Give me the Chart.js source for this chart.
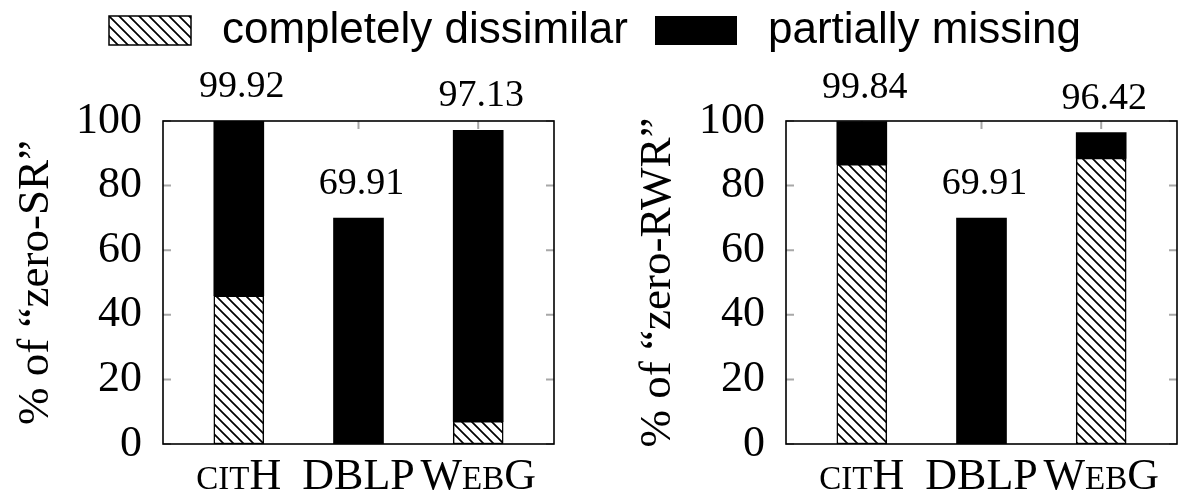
<!DOCTYPE html>
<html>
<head>
<meta charset="utf-8">
<title>zero-SR / zero-RWR</title>
<script src="https://cdn.jsdelivr.net/npm/chart.js@4.4.1/dist/chart.umd.min.js"></script>
<style>
  html, body { margin: 0; padding: 0; background: #fff; }
  #page { position: relative; width: 1188px; height: 495px; overflow: hidden; }
  .panel { position: absolute; top: 0; }
  #legend { position: absolute; left: 0; top: 0; width: 1188px; height: 60px;
            font-family: 'Liberation Sans', Arial, sans-serif; font-size: 44px; color: #000; }
  .swatch { position: absolute; top: 15px; }
  .ltext { position: absolute; top: 4px; line-height: 48px; white-space: nowrap; }
</style>
</head>
<body>
<div id="page">
  <canvas id="srChart" class="panel" width="594" height="495" style="left:0"></canvas>
  <canvas id="rwrChart" class="panel" width="594" height="495" style="left:594px"></canvas>
  <div id="legend">
    <canvas id="swHatch" class="swatch" width="84" height="31" style="left:108px"></canvas>
    <span class="ltext" style="left:222px"></span>
    <canvas id="swBlack" class="swatch" width="84" height="31" style="left:654px"></canvas>
    <span class="ltext" style="left:768px"></span>
  </div>
</div>
<script>
// ── data ────────────────────────────────────────────────────────────────
const categories = ['citH', 'DBLP', 'WebG'];
const seriesNames = ['completely dissimilar', 'partially missing'];

const dissimilarSR = [45.9, 0, 7.0];
const partialSR = [54.02, 69.91, 90.13];
const totalSR = [99.92, 69.91, 97.13];

const dissimilarRWR = [86.6, 0, 88.5];
const partialRWR = [13.24, 69.91, 7.92];
const totalRWR = [99.84, 69.91, 96.42];

const yTicks = [0, 20, 40, 60, 80, 100];

const SERIF = "'Liberation Serif', 'DejaVu Serif', serif";

// ── hatch pattern ("north west lines") ─────────────────────────────────
function makeHatch(ctx) {
    const tile = document.createElement('canvas');
    tile.width = 10;
    tile.height = 10;
    const t = tile.getContext('2d');
    t.fillStyle = '#fff';
    t.fillRect(0, 0, 10, 10);
    t.strokeStyle = '#000';
    t.lineWidth = 1.7;
    t.beginPath();
    t.moveTo(-2, -2); t.lineTo(12, 12);
    t.moveTo(-12, -2); t.lineTo(2, 12);
    t.moveTo(8, -2); t.lineTo(22, 12);
    t.stroke();
    return ctx.createPattern(tile, 'repeat');
}

// lowercase letters are drawn as small capitals
function drawSmallCaps(ctx, text, cx, baseline, big, small) {
    const runs = [];
    for (const ch of text) {
        const sc = ch !== ch.toUpperCase();
        const last = runs[runs.length - 1];
        if (last && last.sc === sc) last.t += sc ? ch.toUpperCase() : ch;
        else runs.push({ sc, t: sc ? ch.toUpperCase() : ch });
    }
    let w = 0;
    runs.forEach(r => {
        ctx.font = (r.sc ? small : big) + 'px ' + SERIF;
        r.w = ctx.measureText(r.t).width;
        w += r.w;
    });
    let x = cx - w / 2;
    ctx.textAlign = 'left';
    ctx.textBaseline = 'alphabetic';
    runs.forEach(r => {
        ctx.font = (r.sc ? small : big) + 'px ' + SERIF;
        ctx.fillText(r.t, x, baseline);
        x += r.w;
    });
}

// inner ticks, frame, totals above bars, category labels
const decorations = {
    id: 'decorations',
    beforeDatasetsDraw(chart) {
        const { ctx, chartArea: a, scales: { x, y } } = chart;
        ctx.save();
        ctx.strokeStyle = '#a8a8a8';
        ctx.lineWidth = 2;
        ctx.beginPath();
        yTicks.forEach(v => {
            const py = y.getPixelForValue(v);
            ctx.moveTo(a.left, py); ctx.lineTo(a.left + 8, py);
            ctx.moveTo(a.right, py); ctx.lineTo(a.right - 8, py);
        });
        categories.forEach((c, i) => {
            const px = x.getPixelForValue(i);
            ctx.moveTo(px, a.top); ctx.lineTo(px, a.top + 8);
            ctx.moveTo(px, a.bottom); ctx.lineTo(px, a.bottom - 8);
        });
        ctx.stroke();
        ctx.restore();
    },
    afterDatasetsDraw(chart, args, opts) {
        const { ctx, chartArea: a, scales: { x, y } } = chart;
        ctx.save();
        ctx.strokeStyle = '#000';
        ctx.lineWidth = 1.6;
        ctx.strokeRect(a.left, a.top, a.right - a.left, a.bottom - a.top);

        ctx.fillStyle = '#000';
        ctx.font = '38px ' + SERIF;
        ctx.textAlign = 'center';
        ctx.textBaseline = 'alphabetic';
        opts.totals.forEach((v, i) => {
            ctx.fillText(v.toFixed(2), x.getPixelForValue(i) + 3, y.getPixelForValue(v) - 24);
        });

        categories.forEach((c, i) => {
            drawSmallCaps(ctx, c, x.getPixelForValue(i), a.bottom + 45, 44, 33);
        });
        ctx.restore();
    }
};

function buildChart(id, dissimilar, partial, totals, title, padLeft, axisWidth, padRight) {
    const canvas = document.getElementById(id);
    const hatch = makeHatch(canvas.getContext('2d'));
    return new Chart(canvas, {
        type: 'bar',
        data: {
            datasets: [
                {
                    label: seriesNames[0],
                    data: dissimilar.map((v, i) => ({ x: i, y: v > 0 ? v : null })),
                    backgroundColor: hatch,
                    borderColor: '#000',
                    borderWidth: 1.5,
                    borderSkipped: false,
                    barThickness: 50,
                },
                {
                    label: seriesNames[1],
                    data: partial.map((v, i) => ({ x: i, y: v })),
                    backgroundColor: '#000',
                    borderColor: '#000',
                    borderWidth: 0,
                    barThickness: 50,
                }
            ]
        },
        options: {
            responsive: false,
            animation: false,
            layout: { padding: { top: 121, bottom: 51, left: padLeft, right: padRight } },
            plugins: {
                legend: { display: false },
                tooltip: { enabled: false },
                decorations: { totals: totals }
            },
            scales: {
                x: {
                    type: 'linear',
                    display: false,
                    stacked: true,
                    min: -0.4,
                    max: 2.4,
                },
                y: {
                    stacked: true,
                    min: 0,
                    max: 100,
                    grid: { display: false, drawTicks: false },
                    border: { display: false },
                    ticks: {
                        stepSize: 20,
                        padding: 21,
                        color: '#000',
                        font: { family: SERIF, size: 44 }
                    },
                    title: {
                        display: true,
                        text: title,
                        color: '#000',
                        padding: { top: 9, bottom: 0 },
                        font: { family: SERIF, size: 45 }
                    },
                    afterFit(scale) { scale.width = axisWidth; }
                }
            }
        },
        plugins: [decorations]
    });
}

buildChart('srChart', dissimilarSR, partialSR, totalSR, '% of “zero-SR”', 0, 163, 40);
buildChart('rwrChart', dissimilarRWR, partialRWR, totalRWR, '% of “zero-RWR”', 28, 164, 11);

// ── legend ──────────────────────────────────────────────────────────────
const texts = document.querySelectorAll('#legend .ltext');
texts[0].textContent = seriesNames[0];
texts[1].textContent = seriesNames[1];

const sh = document.getElementById('swHatch').getContext('2d');
sh.fillStyle = makeHatch(sh);
sh.fillRect(1, 1, 82, 29);
sh.strokeStyle = '#000';
sh.lineWidth = 1.5;
sh.strokeRect(1, 1, 82, 29);

const sb = document.getElementById('swBlack').getContext('2d');
sb.fillStyle = '#000';
sb.fillRect(1, 1, 82, 29);
</script>
</body>
</html>
